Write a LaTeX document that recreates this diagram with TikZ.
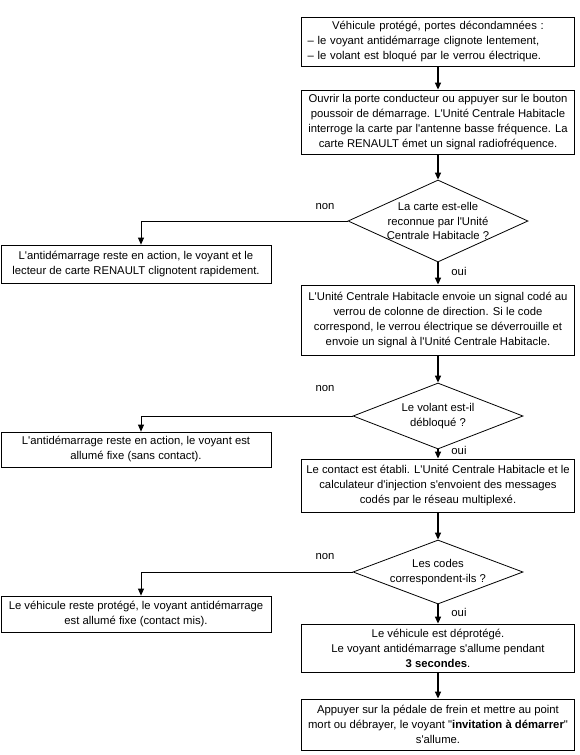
\documentclass[tikz,border=0pt]{standalone}
\usepackage{fontspec}
\newfontfamily\arial{Liberation Sans}
\usetikzlibrary{shapes.geometric,arrows.meta}
\begin{document}
\begin{tikzpicture}[x=1pt,y=-1pt,
 every node/.style={font=\arial\fontsize{11.3}{15}\selectfont},
 box/.style={draw, line width=0.8pt, minimum width=273pt, align=center, inner sep=0pt},
 lbox/.style={draw, line width=0.8pt, minimum width=270pt, align=center, inner sep=0pt},
 diam/.style={draw, diamond, line width=0.8pt, inner sep=0pt},
 dtext/.style={align=center, inner sep=0pt, font=\arial\fontsize{11.3}{14.5}\selectfont},
 arr/.style={line width=1.4pt, -{Triangle[length=7pt,width=6pt]}},
 narr/.style={line width=0.8pt, -{Triangle[length=7pt,width=6pt]}},
 lab/.style={inner sep=0pt}]
\useasboundingbox (0,0) rectangle (579,755);

\node[box, minimum height=49pt, text width=261pt, align=left] (b1) at (438,41.5)
 {\makebox[261pt]{Véhicule protégé, portes décondamnées :}\\
  – le voyant antidémarrage clignote lentement,\\
  – le volant est bloqué par le verrou électrique.};
\node[box, minimum height=64pt] (b2) at (438,122)
 {Ouvrir la porte conducteur ou appuyer sur le bouton\\
  poussoir de démarrage. L'Unité Centrale Habitacle\\
  interroge la carte par l'antenne basse fréquence. La\\
  carte RENAULT émet un signal radiofréquence.};
\node[diam, minimum width=180pt, minimum height=82pt] (d1) at (438,221) {};
\node[dtext] (d1t) at (d1.center) {La carte est-elle\\reconnue par l'Unité\\Centrale Habitacle ?};
\node[lbox, minimum height=38pt] (l1) at (136,264)
 {L'antidémarrage reste en action, le voyant et le\\
  lecteur de carte RENAULT clignotent rapidement.};
\node[box, minimum height=70pt] (b3) at (438,320)
 {L'Unité Centrale Habitacle envoie un signal codé au\\
  verrou de colonne de direction. Si le code\\
  correspond, le verrou électrique se déverrouille et\\
  envoie un signal à l'Unité Centrale Habitacle.};
\node[diam, minimum width=170pt, minimum height=66pt] (d2) at (438,416) {};
\node[dtext] (d2t) at (d2.center) {Le volant est-il\\débloqué ?};
\node[lbox, minimum height=35pt] (l2) at (136,449.5)
 {L'antidémarrage reste en action, le voyant est\\
  allumé fixe (sans contact).};
\node[box, minimum height=53pt] (b4) at (438,485.5)
 {Le contact est établi. L'Unité Centrale Habitacle et le\\
  calculateur d'injection s'envoient des messages\\
  codés par le réseau multiplexé.};
\node[diam, minimum width=170pt, minimum height=64pt] (d3) at (438,572) {};
\node[dtext] (d3t) at (d3.center) {Les codes\\correspondent-ils ?};
\node[lbox, minimum height=36pt] (l3) at (136,614)
 {Le véhicule reste protégé, le voyant antidémarrage\\
  est allumé fixe (contact mis).};
\node[box, minimum height=48pt] (b5) at (438,648)
 {Le véhicule est déprotégé.\\
  Le voyant antidémarrage s'allume pendant\\
  \textbf{3 secondes}.};
\node[box, minimum height=51pt] (b6) at (438,724.5)
 {Appuyer sur la pédale de frein et mettre au point\\
  mort ou débrayer, le voyant "\textbf{invitation à démarrer}"\\
  s'allume.};

\node[lab] (n1) at (325,207) {non};
\node[lab] (n2) at (325,389) {non};
\node[lab] (n3) at (325,557) {non};
\node[lab] (o1) at (459,271) {oui};
\node[lab] (o2) at (459,450) {oui};
\node[lab] (o3) at (459,612) {oui};

\draw[arr] (b1) -- (b2);
\draw[arr] (b2) -- (d1);
\draw[arr] (d1) -- (b3);
\draw[arr] (b3) -- (d2);
\draw[arr] (d2) -- (b4);
\draw[arr] (b4) -- (d3);
\draw[arr] (d3) -- (b5);
\draw[arr] (b5) -- (b6);
\draw[narr] (d1.west) -| ([xshift=5pt]l1.north);
\draw[narr] (d2.west) -| ([xshift=5pt]l2.north);
\draw[narr] (d3.west) -| ([xshift=5pt]l3.north);
\end{tikzpicture}
\end{document}
